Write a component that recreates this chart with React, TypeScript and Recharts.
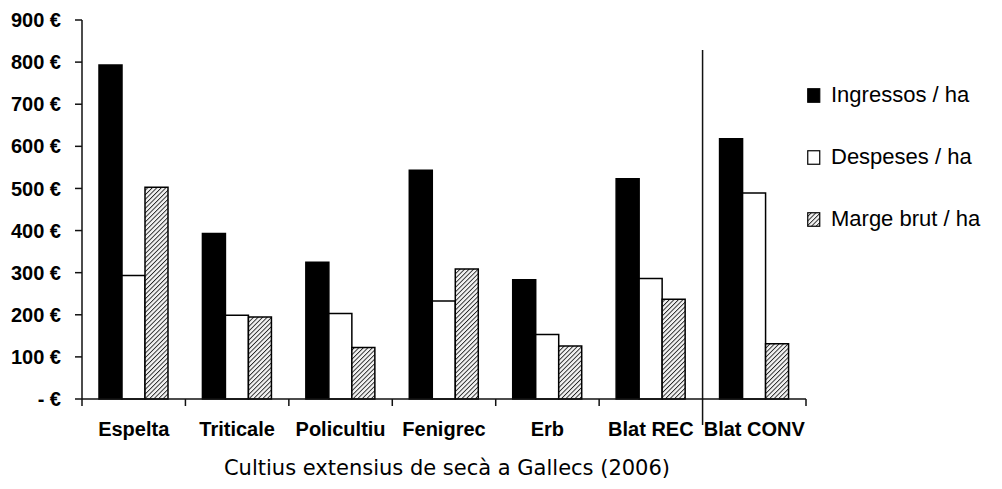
import { BarChart, Bar, XAxis, YAxis } from "recharts";

const crops = ["Espelta", "Triticale", "Policultiu", "Fenigrec", "Erb", "Blat REC", "Blat CONV"];
const ingressos = [793, 393, 325, 543, 283, 523, 618];
const despeses = [293, 199, 203, 233, 153, 286, 489];
const marge = [503, 195, 122, 309, 126, 237, 131];
const yTicks = [0, 100, 200, 300, 400, 500, 600, 700, 800, 900];

const seriesNames = ["Ingressos / ha", "Despeses / ha", "Marge brut / ha"];

const data = crops.map((name, i) => ({
  name,
  ingressos: ingressos[i],
  despeses: despeses[i],
  marge: marge[i],
}));

const PLOT_LEFT = 82;
const PLOT_RIGHT = 806;
const PLOT_TOP = 20;
const PLOT_BOTTOM = 399;
const BAND = (PLOT_RIGHT - PLOT_LEFT) / crops.length;
const FONT = "'Liberation Sans', Arial, sans-serif";

function HatchPattern({ id }: { id: string }) {
  return (
    <pattern id={id} patternUnits="userSpaceOnUse" width={3.2} height={3.2} patternTransform="rotate(45)">
      <rect width={3.2} height={3.2} fill="#f4f4f4" />
      <line x1={0} y1={0} x2={0} y2={3.2} stroke="#222" strokeWidth={1.8} />
    </pattern>
  );
}

function CropTick(props: any) {
  const { x, y, payload, index } = props;
  const left = x - BAND / 2;
  const last = index === crops.length - 1;
  return (
    <g>
      {last ? (
        <line x1={left} x2={left} y1={50} y2={425} stroke="#111" strokeWidth={1.5} />
      ) : (
        <line x1={left} x2={left} y1={y} y2={y + 7} stroke="#111" strokeWidth={1.5} />
      )}
      {last && (
        <line x1={x + BAND / 2} x2={x + BAND / 2} y1={y} y2={y + 7} stroke="#111" strokeWidth={1.5} />
      )}
      <text
        x={x}
        y={y + 37}
        textAnchor="middle"
        fontFamily={FONT}
        fontWeight="bold"
        fontSize={20}
        fill="#000"
      >
        {payload.value}
      </text>
    </g>
  );
}

function LegendBox() {
  const swatch = ["#000", "#fff", "url(#lg-hatch)"];
  return (
    <div style={{ position: "absolute", left: 807, top: 64, fontFamily: FONT, fontSize: 22, color: "#000" }}>
      <svg width={0} height={0} style={{ position: "absolute" }}>
        <defs>
          <HatchPattern id="lg-hatch" />
        </defs>
      </svg>
      {seriesNames.map((s, i) => (
        <div key={s} style={{ display: "flex", alignItems: "center", height: 62, whiteSpace: "nowrap" }}>
          <svg width={14} height={15} style={{ marginRight: 10 }}>
            <rect x={0.75} y={0.75} width={12} height={13.5} fill={swatch[i]} stroke="#000" strokeWidth={1.2} />
          </svg>
          <span>{s}</span>
        </div>
      ))}
    </div>
  );
}

export default function App() {
  return (
    <div style={{ position: "absolute", left: 0, top: 0, width: 1002, height: 489, background: "#fff" }}>
      <BarChart
        width={1002}
        height={489}
        data={data}
        margin={{ top: PLOT_TOP, left: 0, right: 1002 - PLOT_RIGHT, bottom: 489 - PLOT_BOTTOM - 40 }}
        barGap={0}
        barSize={23}
      >
        <defs>
          <HatchPattern id="hatch" />
        </defs>
        <XAxis
          dataKey="name"
          interval={0}
          height={40}
          tickSize={0}
          tickMargin={0}
          tickLine={false}
          axisLine={{ stroke: "#111", strokeWidth: 1.5 }}
          tick={<CropTick />}
        />
        <YAxis
          width={PLOT_LEFT}
          domain={[0, 900]}
          ticks={yTicks}
          interval={0}
          tickSize={7}
          tickMargin={14}
          axisLine={{ stroke: "#111", strokeWidth: 1.5 }}
          tickLine={{ stroke: "#111", strokeWidth: 1.5 }}
          tick={{ fontFamily: FONT, fontWeight: "bold", fontSize: 20, fill: "#000" }}
          tickFormatter={(v: number) => (v === 0 ? "- €" : `${v} €`)}
        />
        <Bar dataKey="ingressos" name={seriesNames[0]} fill="#000" stroke="#000" strokeWidth={1.5} isAnimationActive={false} />
        <Bar dataKey="despeses" name={seriesNames[1]} fill="#fff" stroke="#000" strokeWidth={1.5} isAnimationActive={false} />
        <Bar dataKey="marge" name={seriesNames[2]} fill="url(#hatch)" stroke="#000" strokeWidth={1.5} isAnimationActive={false} />
      </BarChart>
      <LegendBox />
      <div
        style={{
          position: "absolute",
          left: 0,
          width: 894,
          top: 455,
          textAlign: "center",
          fontFamily: "'DejaVu Sans', sans-serif",
          fontSize: 21,
          lineHeight: "26px",
          color: "#000",
        }}
      >
        Cultius extensius de secà a Gallecs (2006)
      </div>
    </div>
  );
}
